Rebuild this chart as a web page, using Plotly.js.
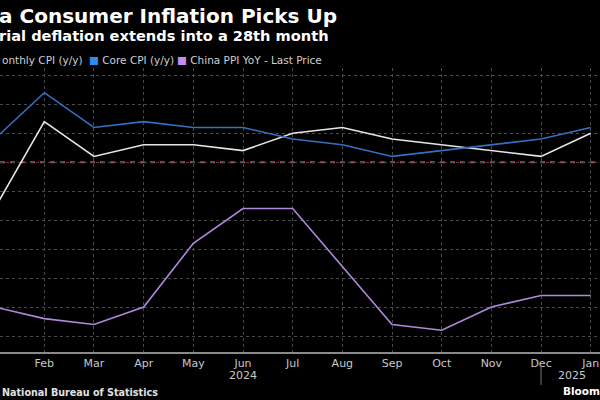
<!DOCTYPE html>
<html>
<head>
<meta charset="utf-8">
<script src="https://cdn.plot.ly/plotly-3.0.1.min.js"></script>
<style>html,body{margin:0;padding:0;background:#000;}#chart{width:600px;height:400px;}</style>
</head>
<body>
<div id="chart"></div>
<script>
// Data
var months = ['Jan','Feb','Mar','Apr','May','Jun','Jul','Aug','Sep','Oct','Nov','Dec','Jan'];
var cpi    = [-0.8, 0.7, 0.1, 0.3, 0.3, 0.2, 0.5, 0.6, 0.4, 0.3, 0.2, 0.1, 0.5];
var core   = [0.4, 1.2, 0.6, 0.7, 0.6, 0.6, 0.4, 0.3, 0.1, 0.2, 0.3, 0.4, 0.6];
var ppi    = [-2.5, -2.7, -2.8, -2.5, -1.4, -0.8, -0.8, -1.8, -2.8, -2.9, -2.5, -2.3, -2.3];
var seriesNames = ['Monthly CPI (y/y)', 'Core CPI (y/y)', 'China PPI YoY - Last Price'];
// Visible (cropped) texts as they appear in the reference
var titleText = 'a Consumer Inflation Picks Up';
var subtitleText = 'rial deflation extends into a 28th month';
var legendLabels = ['onthly CPI (y/y)', 'Core CPI (y/y)', 'China PPI YoY - Last Price'];
var sourceText = 'National Bureau of Statistics';
var brandText = 'Bloom';
var years = ['2024', '2025'];
var idx = months.map(function(m, i){ return i; });

var FONT = 'DejaVu Sans, sans-serif';
var colCPI = '#e6e6e6', colCore = '#3470c2', colPPI = '#b088dc';

var traces = [
  {x: idx, y: ppi, type: 'scatter', mode: 'lines', name: seriesNames[2], line: {color: colPPI, width: 1.6}},
  {x: idx, y: cpi, type: 'scatter', mode: 'lines', name: seriesNames[0], line: {color: colCPI, width: 1.6}},
  {x: idx, y: core, type: 'scatter', mode: 'lines', name: seriesNames[1], line: {color: colCore, width: 1.6}}
];

function legendItem(sq, label, xpos, anchor){
  return {xref: 'paper', yref: 'paper', x: xpos/600, y: (400-60-48)/284, xanchor: anchor, yanchor: 'middle',
    showarrow: false, borderpad: 0, text: (sq ? '<span style="color:' + sq + '">■</span> ' : '') + label,
    font: {family: FONT, size: 10.5, color: '#cfcfcf'}};
}

var layout = {
  width: 600, height: 400,
  paper_bgcolor: '#000', plot_bgcolor: '#000',
  margin: {l: 0, r: 0, t: 68, b: 48},
  showlegend: false,
  title: {text: '<b>' + titleText + '</b>', x: 337/600, xref: 'paper', xanchor: 'right',
          y: 1 - 16/400, yanchor: 'middle', font: {family: FONT, size: 20, color: '#ffffff'}},
  xaxis: {
    range: [0.108, 12.187], tickmode: 'array', tickvals: idx, ticktext: months,
    showgrid: true, gridcolor: '#4a4a4a', griddash: 'dot', gridwidth: 1,
    showline: true, linecolor: '#8a8a8a', linewidth: 1.5, ticks: '', zeroline: false,
    tickfont: {family: FONT, size: 11, color: '#c8c8c8'}
  },
  yaxis: {
    range: [-3.276, 1.626], dtick: 0.5, tick0: 0, showticklabels: false,
    showgrid: true, gridcolor: '#4a4a4a', griddash: 'dot', gridwidth: 1, zeroline: false
  },
  shapes: [
    {type: 'line', xref: 'paper', yref: 'y', x0: 0, x1: 1, y0: 0, y1: 0,
     line: {color: '#e0334f', width: 2, dash: '5px,5px'}, layer: 'between'},
    {type: 'line', xref: 'x', yref: 'paper', x0: 11, x1: 11, y0: -0.046, y1: -0.116,
     line: {color: '#777', width: 1}}
  ],
  annotations: [
    {xref: 'paper', yref: 'paper', x: 331/600, y: (400-36-48)/284, xanchor: 'right', yanchor: 'middle', showarrow: false,
     text: '<b>' + subtitleText + '</b>', font: {family: FONT, size: 14.6, color: '#ffffff'}},
    legendItem(null, legendLabels[0], 1, 'left'),
    legendItem('#2e8cf0', legendLabels[1], 175, 'right'),
    legendItem('#c58cf2', legendLabels[2], 323, 'right'),
    {xref: 'x', yref: 'paper', x: 5, y: (400-376-48)/284, xanchor: 'center', yanchor: 'middle', showarrow: false,
     text: years[0], font: {family: FONT, size: 11, color: '#c8c8c8'}},
    {xref: 'x', yref: 'paper', x: 11.62, y: (400-376-48)/284, xanchor: 'center', yanchor: 'middle', showarrow: false,
     text: years[1], font: {family: FONT, size: 11, color: '#c8c8c8'}},
    {xref: 'paper', yref: 'paper', x: 1/600, y: (400-392-48)/284, xanchor: 'left', yanchor: 'middle', showarrow: false,
     borderpad: 0, text: '<b>' + sourceText + '</b>', font: {family: FONT, size: 9.6, color: '#e0e0e0'}},
    {xref: 'paper', yref: 'paper', x: 562/600, y: (400-391-48)/284, xanchor: 'left', yanchor: 'middle', showarrow: false,
     borderpad: 0, text: '<b>' + brandText + '</b>', font: {family: FONT, size: 10.5, color: '#ffffff'}}
  ]
};

Plotly.newPlot('chart', traces, layout, {displayModeBar: false, staticPlot: true});
</script>
</body>
</html>
